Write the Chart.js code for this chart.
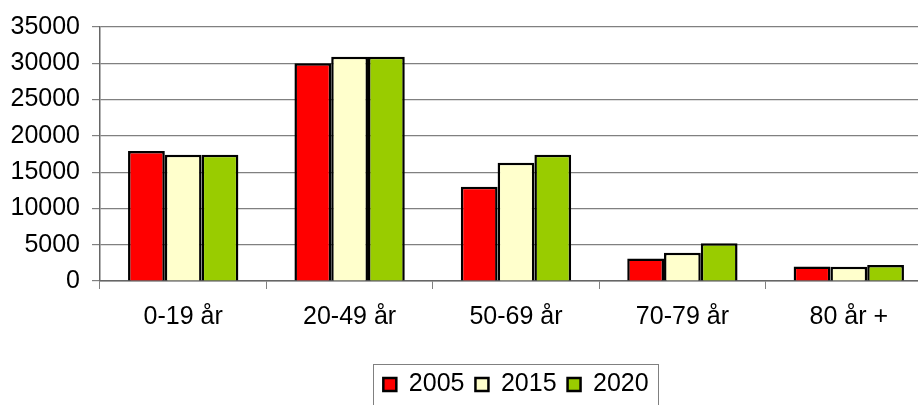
<!DOCTYPE html>
<html>
<head>
<meta charset="utf-8">
<script src="https://cdn.jsdelivr.net/npm/chart.js@4/dist/chart.umd.min.js"></script>
<style>
  html, body { margin: 0; padding: 0; background: #fff; overflow: hidden; }
  #wrap { position: relative; width: 918px; height: 405px; overflow: hidden; }
  #myChart { position: absolute; left: 0; top: 0; }
</style>
</head>
<body>
<div id="wrap"><canvas id="myChart" width="932" height="407"></canvas></div>
<script>
var ageGroups = ["0-19 år", "20-49 år", "50-69 år", "70-79 år", "80 år +"];
var years = ["2005", "2015", "2020"];
var values2005 = [17900, 30000, 13000, 3100, 2000];
var values2015 = [17400, 30900, 16300, 3900, 1950];
var values2020 = [17400, 30900, 17400, 5200, 2200];
var yTicks = [0, 5000, 10000, 15000, 20000, 25000, 30000, 35000];

var fontFamily = "'Liberation Sans', Arial, sans-serif";

// thin grey frame round the legend entries
var legendFrame = {
  id: 'legendFrame',
  afterDraw: function(chart) {
    var boxes = chart.legend.legendHitBoxes;
    if (!boxes || !boxes.length) return;
    var left = boxes[0].left, right = 0;
    for (var b of boxes) {
      left = Math.min(left, b.left);
      right = Math.max(right, b.left + b.width);
    }
    var ctx = chart.ctx;
    ctx.save();
    ctx.strokeStyle = '#808080';
    ctx.lineWidth = 1;
    ctx.strokeRect(Math.round(left - 10) + 0.5, chart.legend.top + 3.5, Math.round(right - left + 20), 60);
    ctx.restore();
  }
};

var data = {
  labels: ageGroups,
  datasets: [
    { label: years[0], data: values2005, backgroundColor: "#FF0000" },
    { label: years[1], data: values2015, backgroundColor: "#FFFFCC" },
    { label: years[2], data: values2020, backgroundColor: "#99CC00" }
  ]
};
data.datasets.forEach(function(ds) {
  ds.borderColor = "#000000";
  ds.borderWidth = 2.5;
  ds.barPercentage = 1.0;
  ds.categoryPercentage = 0.663;
});

var options = {
  responsive: false,
  animation: false,
  layout: { padding: { top: 27, left: 0, right: 0, bottom: 0 } },
  plugins: {
    tooltip: { enabled: false },
    legend: {
      position: 'bottom',
      fullSize: false,
      labels: {
        color: '#000',
        font: { family: fontFamily, size: 25 },
        boxWidth: 13,
        boxHeight: 13,
        padding: 11
      }
    }
  },
  scales: {
    x: {
      grid: { offset: true, drawOnChartArea: false, drawTicks: true, tickLength: 8, color: '#808080' },
      border: { color: '#666666', width: 1.5 },
      ticks: { color: '#000', font: { family: fontFamily, size: 25 }, padding: 13, maxRotation: 0 },
      afterFit: function(scale) { scale.height = 80; }
    },
    y: {
      min: 0,
      max: 35000,
      grid: { color: '#808080', lineWidth: 1.2, tickLength: 8 },
      border: { color: '#666666', width: 1.5 },
      ticks: {
        stepSize: 5000,
        color: '#000',
        font: { family: fontFamily, size: 25 },
        padding: 12,
        callback: function(v) { return yTicks.indexOf(v) >= 0 ? String(v) : null; }
      },
      afterFit: function(scale) { scale.width = 100; }
    }
  }
};

var ctx = document.getElementById("myChart").getContext("2d");
var myBarChart = new Chart(ctx, {
  type: 'bar',
  data: data,
  options: options,
  plugins: [legendFrame]
});
</script>
</body>
</html>
